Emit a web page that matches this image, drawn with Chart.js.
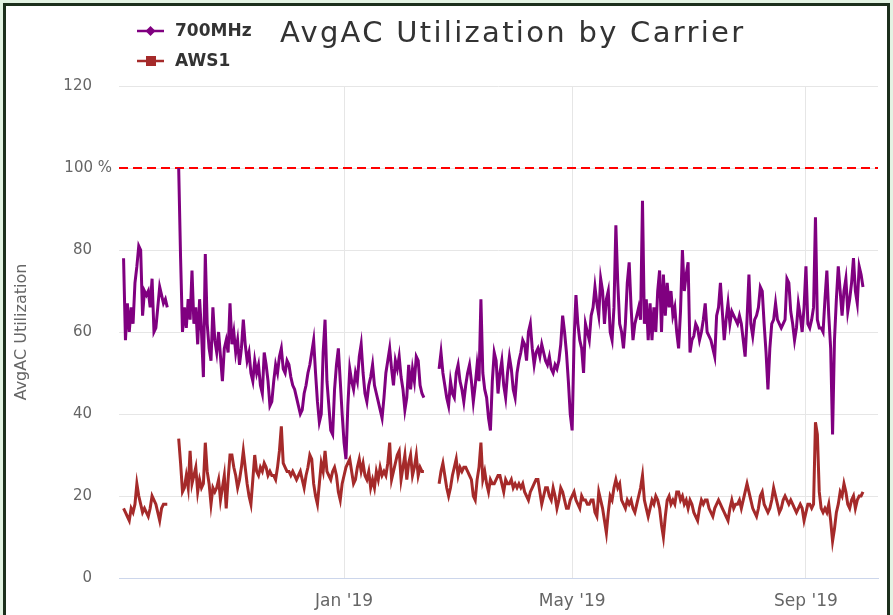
<!DOCTYPE html>
<html>
<head>
<meta charset="utf-8">
<script src="https://cdn.jsdelivr.net/npm/chart.js@4.4.0/dist/chart.umd.min.js"></script>
<style>
  html, body { margin: 0; padding: 0; background: #e3f3e3; }
  body { width: 893px; height: 615px; position: relative; overflow: hidden; }
  #frame { position: absolute; left: 3px; top: 3px; width: 881px; height: 640px; border: 3px solid #1c2f1c; background: #fff; }
  #c { position: absolute; left: 0; top: 0; }
</style>
</head>
<body>
<div id="frame"></div>
<canvas id="c" width="893" height="615"></canvas>
<script>
// x values are days counted from 1 Jan 2019
const titleText = 'AvgAC Utilization by Carrier';
const seriesNames = ['700MHz', 'AWS1'];
const segmentStarts = [-116, -87, 50];   // Sep 7 2018, Oct 6 2018, Feb 20 2019

const mhz700Sep18 = [78,58,67,60,66,62,72,76,81,80,64,70,69,70,66,73,60,61,66,71,69,67,68,66];
const mhz700OctFeb = [
  100,78,60,66,61,68,63,75,62,66,
  57,68,60,49,79,62,56,53,66,58,
  55,60,54,48,56,58,55,67,57,60,
  55,58,52,56,63,57,53,55,50,48,
  53,50,52,47,45,55,52,48,42,43,
  48,52,50,54,56,51,50,53,52,49,
  47,46,44,42,40,41,45,47,50,52,
  55,58,50,43,38,40,55,63,48,42,
  36,35,46,52,56,48,40,33,29,42,
  51,48,46,50,48,54,57,50,45,43,
  47,49,52,47,45,43,41,39,44,50,
  53,56,51,47,53,51,54,49,46,41,
  44,52,46,51,48,54,53,47,45,44
];
const mhz700FebSep = [
  51,55,50,47,44,42,48,45,44,50,
  52,48,46,43,47,50,52,48,43,47,
  52,48,68,50,46,44,39,36,48,55,
  53,45,50,53,47,44,50,54,51,46,
  44,50,53,55,58,57,53,60,62,56,
  52,55,56,54,57,55,53,52,54,51,
  50,52,51,53,57,64,60,55,48,40,
  36,58,69,62,58,56,50,62,60,58,
  64,66,71,67,64,73,70,62,68,70,
  60,58,66,86,72,62,60,56,62,72,
  77,66,58,62,64,66,63,92,62,68,
  58,67,58,66,60,70,75,60,74,64,
  72,66,70,64,66,60,56,65,80,70,
  74,77,55,58,59,62,61,58,60,63,
  67,60,59,58,56,54,64,66,72,65,
  58,63,67,62,65,64,63,62,64,62,
  58,54,63,74,62,59,63,64,66,71,
  70,62,55,46,56,62,63,67,63,62,
  61,62,63,73,72,65,62,58,61,67,
  64,60,66,76,62,61,63,66,88,63,
  61,61,60,68,75,64,56,35,58,68,
  76,70,64,70,73,65,68,72,78,70,
  67,76,74,71
];

const aws1Sep18 = [17,16,15,14,17,16,18,23,20,18,16,17,16,15,17,20,19,18,16,14,17,18,18,18];
const aws1OctFeb = [
  34,28,21,22,25,22,31,23,25,27,
  21,24,22,23,33,26,23,18,22,21,
  22,24,19,22,25,17,24,30,30,27,
  25,22,24,27,31,27,23,20,18,24,
  30,26,25,27,26,28,27,25,26,25,
  25,24,27,31,37,28,27,26,26,25,
  26,25,24,25,26,24,22,25,27,30,
  29,23,20,18,23,28,26,31,26,25,
  24,26,27,25,21,19,23,25,27,28,
  29,26,23,24,27,29,26,28,25,24,
  26,22,24,22,26,24,27,25,26,25,
  28,33,24,26,28,30,31,24,27,30,
  24,28,30,25,27,30,25,27,26,26
];
const aws1FebSep = [
  23,26,28,25,22,20,22,25,27,29,
  25,27,26,27,27,26,25,24,20,19,
  24,27,33,24,26,23,21,24,23,23,
  24,25,25,23,21,24,23,23,24,22,
  23,22,23,22,23,21,20,19,21,22,
  23,24,24,21,18,20,22,22,20,19,
  22,20,17,19,22,21,19,17,17,19,
  20,21,19,18,17,20,19,19,18,18,
  19,19,16,15,21,19,17,14,11,16,
  20,19,22,24,22,23,19,18,17,19,
  18,19,17,16,18,20,22,25,19,17,
  15,17,19,18,20,19,17,13,10,15,
  19,20,18,19,18,21,21,19,20,18,
  19,17,19,18,16,15,14,17,19,18,
  19,19,17,16,15,17,18,19,18,17,
  16,15,14,17,19,17,18,18,19,17,
  19,21,23,21,19,17,16,15,17,20,
  21,18,17,16,17,19,22,20,18,16,
  17,19,20,19,18,19,18,17,16,17,
  18,17,14,16,18,18,17,18,38,35,
  21,17,16,17,16,18,14,9,12,16,
  18,21,20,23,21,18,17,19,20,17,
  19,20,20,21
];

const xTickDays = [0, 120, 243];
const xTickLabels = ["Jan '19", "May '19", "Sep '19"];
const yTicks = [0, 20, 40, 60, 80, 100, 120];
const thresholdValue = 100;
const X_MIN = -118.4, X_MAX = 280.9;

const seriesColors = ['#800080', '#a52a2a'];
const fontFamily = "'DejaVu Sans', Verdana, sans-serif";

function toPoints(segs) {
  const pts = [];
  segs.forEach((vals, s) => {
    if (s > 0) pts.push({ x: segmentStarts[s] - 1, y: null });
    vals.forEach((v, i) => pts.push({ x: segmentStarts[s] + i, y: v }));
  });
  return pts;
}

const overlay = {
  id: 'overlay',
  afterDraw(chart) {
    const ctx = chart.ctx;
    const yScale = chart.scales.y;
    ctx.save();

    // title
    ctx.fillStyle = '#333333';
    ctx.font = '29px ' + fontFamily;
    ctx.textAlign = 'left';
    ctx.textBaseline = 'alphabetic';
    ctx.letterSpacing = '2.3px';
    ctx.fillText(titleText, 280, 42);
    ctx.letterSpacing = '0px';

    // legend, stacked at top left
    seriesNames.forEach((name, i) => {
      const ly = 31 + i * 30;
      ctx.strokeStyle = seriesColors[i];
      ctx.lineWidth = 2.5;
      ctx.beginPath();
      ctx.moveTo(137, ly);
      ctx.lineTo(164, ly);
      ctx.stroke();
      ctx.fillStyle = seriesColors[i];
      ctx.beginPath();
      if (i === 0) {
        ctx.moveTo(150.5, ly - 5);
        ctx.lineTo(155.5, ly);
        ctx.lineTo(150.5, ly + 5);
        ctx.lineTo(145.5, ly);
        ctx.closePath();
      } else {
        ctx.rect(146, ly - 5, 10, 10);
      }
      ctx.fill();
      ctx.fillStyle = '#333333';
      ctx.font = 'bold 17px ' + fontFamily;
      ctx.textBaseline = 'middle';
      ctx.fillText(name, 175, ly + 1);
    });

    // label of the 100 % line
    ctx.fillStyle = '#666666';
    ctx.font = '15px ' + fontFamily;
    ctx.textAlign = 'right';
    ctx.textBaseline = 'middle';
    ctx.fillText(thresholdValue + ' %', 112, yScale.getPixelForValue(thresholdValue));
    ctx.restore();
  }
};

new Chart(document.getElementById('c'), {
  type: 'line',
  data: {
    datasets: [
      {
        label: seriesNames[0],
        data: toPoints([mhz700Sep18, mhz700OctFeb, mhz700FebSep]),
        borderColor: seriesColors[0],
        borderWidth: 3,
        pointRadius: 0,
        tension: 0,
        spanGaps: false
      },
      {
        label: seriesNames[1],
        data: toPoints([aws1Sep18, aws1OctFeb, aws1FebSep]),
        borderColor: seriesColors[1],
        borderWidth: 3,
        pointRadius: 0,
        tension: 0,
        spanGaps: false
      },
      {
        label: 'threshold',
        data: [{ x: X_MIN, y: thresholdValue }, { x: X_MAX, y: thresholdValue }],
        borderColor: '#ff0000',
        borderWidth: 2,
        borderDash: [9, 5],
        pointRadius: 0
      }
    ]
  },
  options: {
    responsive: false,
    animation: false,
    events: [],
    layout: { padding: { top: 86, right: 15, left: 0, bottom: 0 } },
    plugins: {
      legend: { display: false },
      title: { display: false },
      tooltip: { enabled: false }
    },
    scales: {
      x: {
        type: 'linear',
        min: X_MIN,
        max: X_MAX,
        afterBuildTicks: (s) => { s.ticks = xTickDays.map(v => ({ value: v })); },
        afterFit: (s) => { s.height = 37; },
        ticks: {
          autoSkip: false,
          maxRotation: 0,
          padding: 13,
          color: '#666666',
          font: { family: fontFamily, size: 17 },
          callback: (v) => xTickLabels[xTickDays.indexOf(v)]
        },
        grid: { color: '#e6e6e6', drawTicks: false },
        border: { color: '#ccd6eb', width: 1 }
      },
      y: {
        min: 0,
        max: 120,
        afterBuildTicks: (s) => { s.ticks = yTicks.map(v => ({ value: v })); },
        afterFit: (s) => { s.width = 119; },
        ticks: {
          padding: 27,
          color: '#666666',
          font: { family: fontFamily, size: 15 },
          callback: (v) => (v === thresholdValue ? '' : String(v))
        },
        grid: {
          drawTicks: false,
          color: (c) => (c.tick && c.tick.value === 0 ? 'rgba(0,0,0,0)' : '#e6e6e6')
        },
        border: { display: false },
        title: {
          display: true,
          text: 'AvgAC Utilization',
          color: '#666666',
          font: { family: fontFamily, size: 16 },
          padding: { top: 12, bottom: 0 }
        }
      }
    }
  },
  plugins: [overlay]
});
</script>
</body>
</html>
